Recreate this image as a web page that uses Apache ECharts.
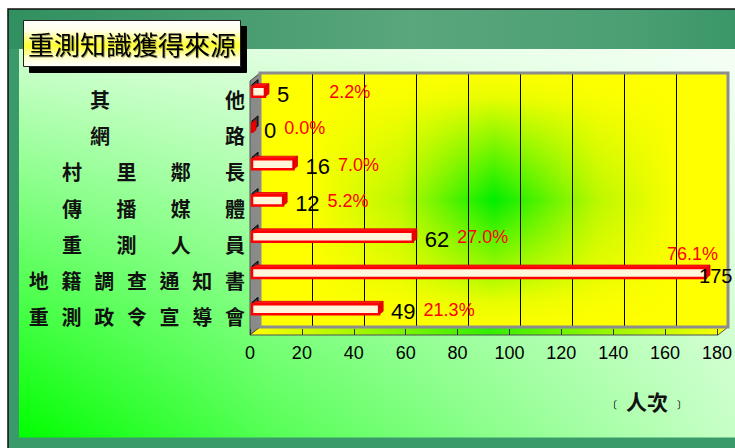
<!DOCTYPE html>
<html>
<head>
<meta charset="utf-8">
<script src="https://cdn.jsdelivr.net/npm/echarts@6/dist/echarts.min.js"></script>
<style>
html,body{margin:0;padding:0;background:#fff;}
#chart{width:735px;height:448px;}
</style>
</head>
<body>
<div id="chart"></div>
<script>
// ---- data ----
const categories = ['其他', '網路', '村里鄰長', '傳播媒體', '重測人員', '地籍調查通知書', '重測政令宣導會'];
const counts = [5, 0, 16, 12, 62, 175, 49];
const percents = [2.2, 0.0, 7.0, 5.2, 27.0, 76.1, 21.3];
const xMin = 0, xMax = 180, xStep = 20;
const titleText = '重測知識獲得來源';
const unitText = '人次';

// ---- style ----
const CJK = '"Noto Sans CJK TC", "Noto Sans CJK SC", sans-serif';
const LAT = '"Liberation Sans", Arial, sans-serif';
const gapByLen = {2: 115, 4: 34.3, 7: 12.7};

const chart = echarts.init(document.getElementById('chart'), null, {renderer: 'svg'});

function catLabel(s) {
  const ch = Array.from(s);
  const g = 'g' + ch.length;
  return ch.map(c => '{c|' + c + '}').join('{' + g + '| }');
}
const catRich = {c: {fontSize: 20, fontFamily: CJK, fontWeight: 'bold', color: '#111', width: 20, align: 'center'}};
Object.keys(gapByLen).forEach(k => { catRich['g' + k] = {width: gapByLen[k], fontSize: 10}; });

const maxCount = Math.max.apply(null, counts);

function renderItem(params, api) {
  const v = api.value(0), i = api.value(1);
  const p0 = api.coord([0, i]);
  const p1 = api.coord([v, i]);
  const c = p0[1];
  const xs = p0[0] + 2, xe = p1[0] + 2;
  const yt = c - 12.5, yb = c - 2.5;
  const dx = 4, dy = -3;
  const pct = percents[i].toFixed(1) + '%';
  const kids = [
    {type: 'polygon', shape: {points: [[xs, yt - 2], [xs + 6, yt - 7], [xs + 6, yb - 7], [xs, yb - 3]]},
      style: {fill: '#3a3a3a', stroke: '#000', lineWidth: 1}},
    {type: 'polygon', shape: {points: [[xs, yt], [xe, yt], [xe + dx, yt + dy], [xs + dx, yt + dy]]},
      style: {fill: '#ff1a1a', stroke: '#e00000', lineWidth: 0.8}},
    {type: 'rect', shape: {x: xs, y: yt, width: Math.max(0, xe - xs), height: yb - yt},
      style: {fill: '#fff6dc', stroke: '#ff0000', lineWidth: 2.5}},
    {type: 'polygon', shape: {points: [[xe, yt], [xe + dx, yt + dy], [xe + dx, yb + dy], [xe, yb]]},
      style: {fill: '#ee0000', stroke: '#cc0000', lineWidth: 0.8}}
  ];
  if (v === maxCount) {
    kids.push({type: 'text', x: xe - 7, y: c - 5,
      style: {text: String(v), fill: '#000', fontSize: 20, fontFamily: LAT, align: 'left', verticalAlign: 'middle'}});
    kids.push({type: 'text', x: xe - 39, y: c - 27,
      style: {text: pct, fill: '#ff0000', fontSize: 18, fontFamily: LAT, align: 'left', verticalAlign: 'middle'}});
  } else {
    const gap = i === 0 ? 40 : 8;
    kids.push({type: 'text', x: xe + 12, y: c - 5,
      style: {
        text: '{v|' + v + '}{g| }{p|' + pct + '}',
        align: 'left', verticalAlign: 'middle',
        rich: {
          v: {fontSize: 22, fontFamily: LAT, fill: '#000'},
          g: {width: gap, fontSize: 10},
          p: {fontSize: 18, fontFamily: LAT, fill: '#ff0000', padding: [0, 0, 4, 0]}
        }
      }});
  }
  return {type: 'group', children: kids};
}

const lg = (x, y, x2, y2, stops) => new echarts.graphic.LinearGradient(x, y, x2, y2, stops);

const option = {
  backgroundColor: '#ffffff',
  animation: false,
  title: {
    text: titleText,
    left: 23, top: 20,
    padding: [9, 5, 10, 5],
    backgroundColor: lg(0, 0, 0, 1, [
      {offset: 0, color: '#ffffff'}, {offset: 0.22, color: '#ffffe8'},
      {offset: 0.55, color: '#ffff30'}, {offset: 0.8, color: '#ffffcc'}, {offset: 1, color: '#ffffff'}]),
    borderColor: '#222', borderWidth: 1,
    shadowColor: '#000', shadowBlur: 0, shadowOffsetX: 6, shadowOffsetY: 6,
    textStyle: {fontSize: 26, fontWeight: 'normal', fontFamily: CJK, color: '#000', lineHeight: 28,
      textShadowColor: 'rgba(0,0,0,0.35)', textShadowOffsetX: 1, textShadowOffsetY: 1, textShadowBlur: 1}
  },
  graphic: [
    {type: 'rect', z: -20, shape: {x: 8, y: 9, width: 735, height: 445},
      style: {fill: '#3a9a6a', stroke: '#111', lineWidth: 1.5}},
    {type: 'rect', z: -19, shape: {x: 9, y: 10, width: 730, height: 39},
      style: {fill: lg(0, 0, 1, 0, [{offset: 0, color: '#31905f'}, {offset: 0.55, color: '#5aa67d'}, {offset: 0.85, color: '#4b9f73'}, {offset: 1, color: '#3a9668'}])}},
    {type: 'rect', z: -18, shape: {x: 19, y: 49, width: 720, height: 388.5},
      style: {fill: lg(0, 0, 1, 0, [{offset: 0, color: '#00ff00'}, {offset: 0.35, color: '#55ff55'}, {offset: 1, color: '#c8ffc8'}])}},
    {type: 'rect', z: -17, shape: {x: 19, y: 49, width: 720, height: 388.5},
      style: {fill: lg(0, 0, 0, 1, [{offset: 0, color: 'rgba(255,255,255,0.82)'}, {offset: 1, color: 'rgba(255,255,255,0)'}])}},
    {type: 'rect', z: -16, shape: {x: 260, y: 73, width: 468, height: 254},
      style: {fill: lg(0, 0, 1, 0, [{offset: 0, color: '#ffff00'}, {offset: 0.1, color: '#ffff00'}, {offset: 0.3, color: '#bbf800'}, {offset: 0.5, color: '#00ee00'}, {offset: 0.72, color: '#bbf800'}, {offset: 0.9, color: '#ffff00'}, {offset: 1, color: '#ffff00'}])}},
    {type: 'rect', z: -15, shape: {x: 260, y: 73, width: 468, height: 254},
      style: {fill: lg(0, 0, 0, 1, [{offset: 0, color: 'rgba(255,255,0,1)'}, {offset: 0.1, color: 'rgba(255,255,0,0.9)'}, {offset: 0.5, color: 'rgba(255,255,0,0)'}, {offset: 0.9, color: 'rgba(255,255,0,0.9)'}, {offset: 1, color: 'rgba(255,255,0,1)'}])}},
    {type: 'polygon', z: -14, shape: {points: [[250, 81], [260, 73], [260, 327], [250, 335]]},
      style: {fill: '#8a8a8a', stroke: '#505050', lineWidth: 1}},
    {type: 'polygon', z: -14, shape: {points: [[250, 335], [260, 327], [728, 327], [718, 335]]},
      style: {fill: lg(0, 0, 1, 0, [{offset: 0, color: '#ffff00'}, {offset: 0.5, color: '#33ee00'}, {offset: 1, color: '#ffff00'}]), stroke: '#505050', lineWidth: 1}},
    {type: 'rect', z: 1, shape: {x: 260, y: 73, width: 468, height: 254},
      style: {fill: 'none', stroke: '#8c8c8c', lineWidth: 3}}
  ],
  grid: [
    {left: 250, top: 81, width: 468, height: 254},
    {left: 260, top: 73, width: 468, height: 254}
  ],
  xAxis: [
    {type: 'value', gridIndex: 0, min: xMin, max: xMax, interval: xStep,
      axisLine: {show: false},
      axisTick: {show: true, inside: true, length: 6, lineStyle: {color: '#333'}},
      splitLine: {show: false},
      axisLabel: {margin: 9, fontSize: 18, fontFamily: LAT, color: '#000'},
      name: '{b|〔}{t|' + unitText + '}{b|〕}',
      nameLocation: 'end', nameGap: -30,
      nameTextStyle: {align: 'right', verticalAlign: 'top', padding: [56, 0, 0, 0],
        rich: {
          b: {fontSize: 10, fontFamily: CJK, color: '#000', padding: [6, 0, 0, 0]},
          t: {fontSize: 21, fontFamily: CJK, fontWeight: 'bold', color: '#111', padding: [0, 9, 0, 9]}
        }}
    },
    {type: 'value', gridIndex: 1, min: xMin, max: xMax, interval: xStep,
      axisLine: {show: false}, axisTick: {show: false}, axisLabel: {show: false},
      splitLine: {show: true, lineStyle: {color: '#000', width: 1}}}
  ],
  yAxis: [
    {type: 'category', gridIndex: 0, data: categories, inverse: true,
      axisLine: {show: false}, axisTick: {show: false}, splitLine: {show: false},
      axisLabel: {margin: 5, formatter: catLabel, rich: catRich}},
    {type: 'category', gridIndex: 1, data: categories, inverse: true, show: false}
  ],
  series: [
    {type: 'custom', xAxisIndex: 0, yAxisIndex: 0, z: 3,
      data: counts.map((v, i) => [v, i]),
      encode: {x: 0, y: 1},
      renderItem: renderItem}
  ]
};
chart.setOption(option);
</script>
</body>
</html>
